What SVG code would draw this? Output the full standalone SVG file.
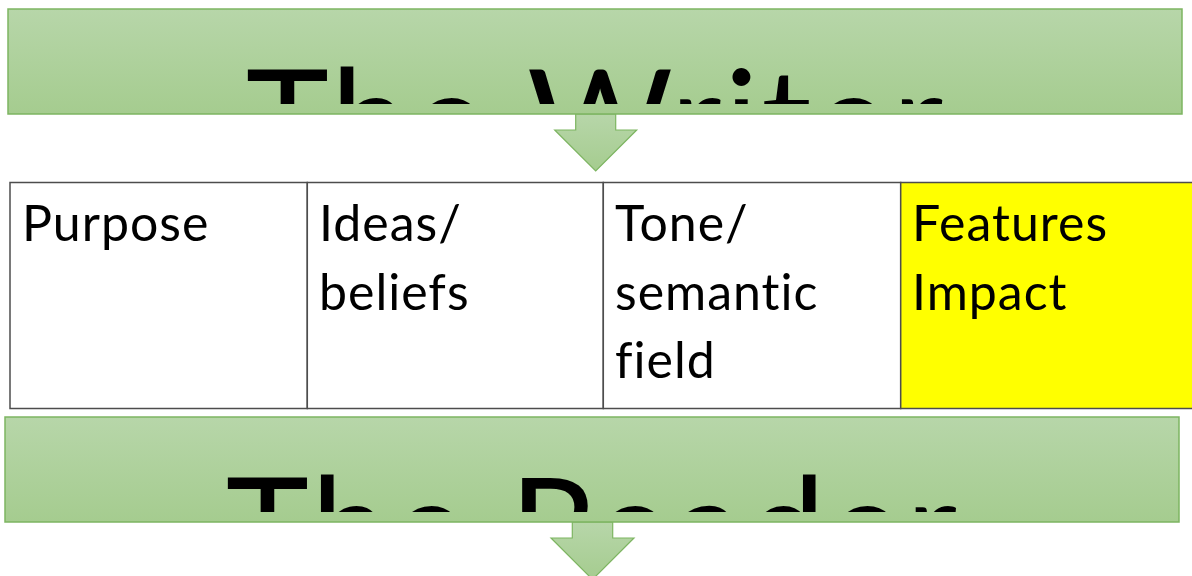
<svg xmlns="http://www.w3.org/2000/svg" width="1192" height="576" viewBox="0 0 1192 576">
<defs>
<linearGradient id="g" x1="0" y1="0" x2="0" y2="1">
<stop offset="0" stop-color="#b7d6a9"/>
<stop offset="1" stop-color="#a5cc8f"/>
</linearGradient>
<clipPath id="c1"><rect x="8" y="9" width="1174" height="95"/></clipPath>
<clipPath id="c2"><rect x="5" y="417" width="1174" height="95"/></clipPath>
</defs>
<style>
.box{fill:url(#g);stroke:#7db561;stroke-width:1.5}
.arr{fill:url(#g);stroke:#7db561;stroke-width:1.2}
.title{font-family:Lato,"Liberation Sans",sans-serif;font-size:141px;fill:#000;text-anchor:middle;letter-spacing:3px;font-variant-ligatures:none}
.cell{fill:#fff;stroke:#4d4d4d;stroke-width:1.5}
.hl{fill:#ffff00;stroke:#4d4d4d;stroke-width:1.5}
.t{font-family:Lato,"Liberation Sans",sans-serif;font-size:50px;fill:#000;letter-spacing:1px;font-variant-ligatures:none}
</style>
<g id="connectors">
<path class="arr" d="M575.7,114 L615.7,114 L615.7,130 L636.7,130 L595.7,171 L554.7,130 L575.7,130 Z"/>
<path class="arr" d="M572.3,522 L612.7,522 L612.7,538 L634,538 L592.5,579.5 L551,538 L572.3,538 Z"/>
</g>
<g id="writer">
<rect class="box" x="8" y="9" width="1174" height="105"/>
<text class="title" x="596" y="171" clip-path="url(#c1)">The Writer</text>
</g>
<g id="table">
<g id="purpose">
<rect class="cell" x="10" y="182.5" width="297.3" height="226"/>
<text class="t" x="22" y="241">Purpose</text>
</g>
<g id="ideas">
<rect class="cell" x="307.3" y="182.5" width="296" height="226"/>
<text class="t"><tspan x="319" y="241">Ideas/</tspan><tspan x="319" y="309.5">beliefs</tspan></text>
</g>
<g id="tone">
<rect class="cell" x="603.3" y="182.5" width="297.4" height="226"/>
<text class="t"><tspan x="615" y="241">Tone/</tspan><tspan x="615" y="309.5">semantic</tspan><tspan x="615" y="378">field</tspan></text>
</g>
<g id="features">
<rect class="hl" x="900.7" y="182.5" width="297" height="226"/>
<text class="t"><tspan x="912" y="241">Features</tspan><tspan x="912" y="309.5">Impact</tspan></text>
</g>
</g>
<g id="reader">
<rect class="box" x="5" y="417" width="1174" height="105"/>
<text class="title" x="593" y="579" clip-path="url(#c2)">The Reader</text>
</g>
</svg>
